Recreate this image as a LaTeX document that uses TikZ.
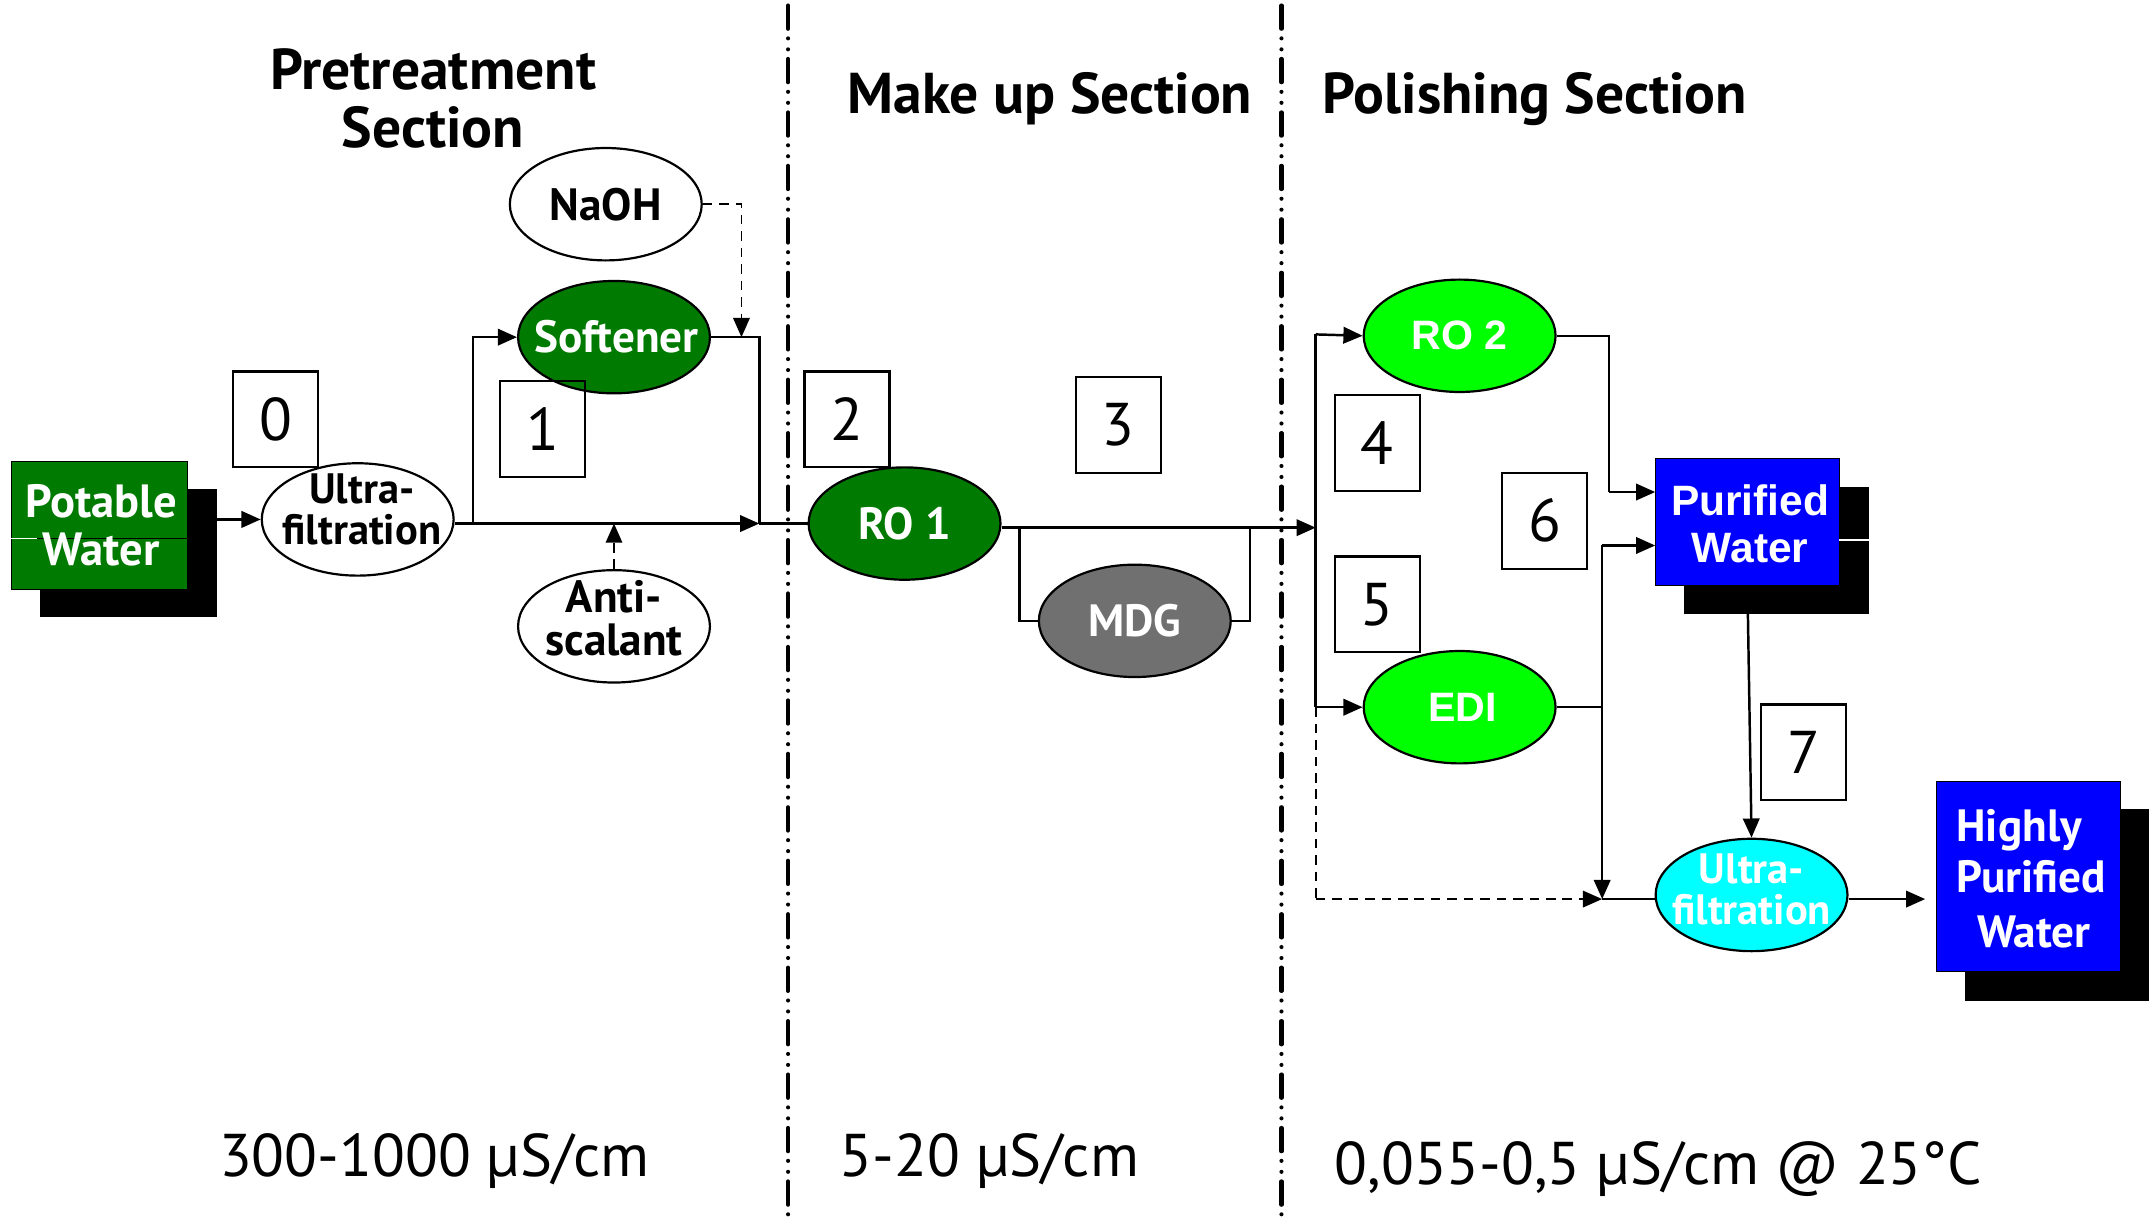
\documentclass[tikz,border=0pt]{standalone}
\usepackage{fontspec}
\setmainfont{PT Sans}
\newfontfamily\arialfont{Liberation Sans}
\usetikzlibrary{arrows.meta,shapes.geometric}
\definecolor{darkgreen}{HTML}{007A00}
\definecolor{lightgreen}{HTML}{00FF00}
\definecolor{pureblue}{HTML}{0000FF}
\definecolor{purecyan}{HTML}{00FFFF}
\definecolor{mdggray}{HTML}{707070}
\begin{document}
\begin{tikzpicture}[x=1pt,y=-1pt,
  wire/.style={line width=1.8pt},
  arr/.style={wire,-{Triangle[length=14pt,width=12pt]}},
  dasharr/.style={arr,dash pattern=on 7pt off 5pt},
  proc/.style={ellipse,draw,line width=1.6pt,minimum width=140pt,minimum height=82pt,inner sep=0pt},
  proctext/.style={font=\fontsize{33}{27}\selectfont\bfseries,align=center,inner sep=0pt},
  twoline/.style={proctext,font=\fontsize{31}{30}\selectfont\bfseries},
  arialtext/.style={proctext,font=\arialfont\fontsize{30}{34}\selectfont\bfseries},
  numbox/.style={draw,line width=1.6pt,minimum width=62pt,minimum height=70pt,inner sep=0pt,
                 font=\fontsize{44}{44}\selectfont},
  title/.style={font=\fontsize{42}{42}\selectfont\bfseries,align=center},
  cond/.style={font=\fontsize{44}{44}\selectfont},
  sectionline/.style={line width=3pt,line cap=round,dash pattern=on 17pt off 7pt on 0pt off 8pt on 0pt off 7pt},
  tank/.style={inner sep=0pt,minimum width=134pt,minimum height=93pt},
  shadow/.style={fill=black,inner sep=0pt}
]
\useasboundingbox (0,0) rectangle (1568,891);

% section borders
\draw[sectionline] (575,4) -- (575,891);
\draw[sectionline] (935,4) -- (935,891);

% section headings
\node[title] (hpre) at (316,72) {Pretreatment\\Section};
\node[title] (hmake) at (766,72) {Make up Section};
\node[title] (hpol) at (1120,72) {Polishing Section};

% conductivity ranges
\node[cond] (c1) at (317,847) {300-1000 µS/cm};
\node[cond] (c2) at (722,847) {5-20 µS/cm};
\node[cond] (c3) at (1210,853) {0,055-0,5 µS/cm @ 25°C};

% ---------- pretreatment ----------
\node[shadow,minimum width=129pt,minimum height=93pt] (pwsh) at (93.5,403.5) {};
\node[fill=darkgreen,draw=black,line width=0.6pt,minimum width=129pt,minimum height=93pt,inner sep=0pt] (pw) at (72.5,383.5) {};
\draw[line width=0.8pt] (27,393) -- (137,393);
\draw[white,line width=0.8pt] (8,393) -- (27,393);
\node[proctext,white,font=\fontsize{34}{35}\selectfont\bfseries] (pwt) at (74,383) {Potable\\Water};

\node[proc,fill=white] (uf1) at (261,379) {};
\node[twoline] (uf1t) at (264,372) {Ultra-\\filtration};

\node[proc,fill=white] (naoh) at (442,149) {};
\node[proctext] (naoht) at (442,149) {NaOH};

\node[proc,fill=darkgreen] (soft) at (448,246) {};
\node[proctext,white] (softt) at (450,246) {Softener};

\node[proc,fill=white] (anti) at (448,457) {};
\node[proctext,font=\fontsize{33}{31}\selectfont\bfseries] (antit) at (448,451) {Anti-\\scalant};

\node[numbox] (n0) at (201,306) {0};
\node[numbox] (n1) at (396,313) {1};

\coordinate (jA) at (554,382);
\coordinate (bS) at (345,382);
\coordinate (nd) at (541,246);

\draw[arr] (pwsh.east |- uf1.west) -- (uf1.west);
\draw[arr] (uf1.east |- jA) -- (jA);
\draw[arr] (bS) |- (soft.west);
\draw[wire] (soft.east) -| (jA);
\draw[dasharr,line width=1.4pt] (naoh.east) -| (nd);
\draw[dasharr,line width=1.4pt] (anti.north) -- (anti.north |- jA);

% ---------- make up ----------
\node[proc,fill=darkgreen] (ro1) at (660,382) {};
\node[proctext,white] (ro1t) at (660,382) {RO 1};
\node[proc,fill=mdggray] (mdg) at (828,453) {};
\node[proctext,white] (mdgt) at (828,453) {MDG};
\node[numbox] (n2) at (618,306) {2};
\node[numbox] (n3) at (816,310) {3};

\coordinate (busM) at (960,385);
\coordinate (m1) at (744,385);
\coordinate (m2) at (912,385);
\draw[wire] (jA) -- (ro1.west);
\draw[arr] (ro1.east |- busM) -- (busM);
\draw[wire] (m1) |- (mdg.west);
\draw[wire] (mdg.east) -| (m2);

% ---------- polishing ----------
\node[proc,fill=lightgreen] (ro2) at (1065,245) {};
\node[arialtext,white] (ro2t) at (1065,245) {RO 2};
\node[proc,fill=lightgreen] (edi) at (1065,516) {};
\node[arialtext,white] (edit) at (1067,516) {EDI};

\node[shadow,minimum width=135pt,minimum height=93pt] (pwatsh) at (1296.5,401.5) {};
\node[fill=pureblue,draw=black,line width=0.6pt,tank] (pwat) at (1275,381) {};
\draw[white,line width=0.8pt] (1342,394) -- (1364,394);
\node[arialtext,white,font=\arialfont\fontsize{31}{34}\selectfont\bfseries] (pwatt) at (1277,382) {Purified\\Water};

\node[proc,fill=purecyan] (uf2) at (1278,653) {};
\node[twoline,white] (uf2t) at (1278,649) {Ultra-\\filtration};

\node[shadow,minimum width=134pt,minimum height=140pt] (hpwsh) at (1501,660) {};
\node[fill=pureblue,draw=black,line width=0.6pt,inner sep=0pt,minimum width=134pt,minimum height=139pt] (hpw) at (1480,639.5) {};
\node[proctext,white,align=left,font=\fontsize{33}{37}\selectfont\bfseries] (hpwt) at (1482,641) {Highly\\Purified\\[3pt]\hspace*{15pt}Water};

\node[numbox] (n4) at (1005,323) {4};
\node[numbox] (n5) at (1005,441) {5};
\node[numbox] (n6) at (1127,380) {6};
\node[numbox] (n7) at (1316,549) {7};

\coordinate (busT) at (960,244);
\coordinate (busE) at (960,516);
\coordinate (busB) at (960,656);
\coordinate (j7) at (1169,656);
\coordinate (e1) at (1169,398);
\coordinate (r2c) at (1174,359);

\draw[wire] (busT) -- (busE);
\draw[arr] (busT) -- (ro2.west);
\draw[arr] (busE) -- (edi.west);
\draw[wire,dash pattern=on 7pt off 5pt,line width=1.4pt] (busE) -- (busB);
\draw[dasharr,line width=1.4pt] (busB) -- (j7);

\draw[wire] (ro2.east) -| (r2c);
\draw[arr] (r2c) -- (r2c -| pwat.west);
\draw[wire] (edi.east) -- (edi.east -| e1);
\draw[arr] (e1) -- (j7);
\draw[arr] (e1) -- (e1 -| pwat.west);
\draw[wire] (j7) -- (j7 -| uf2.west);
\draw[arr] (pwat.south) -- (uf2.north);
\draw[arr,shorten >=8pt] (uf2.east |- j7) -- (hpw.west |- j7);
\end{tikzpicture}
\end{document}
